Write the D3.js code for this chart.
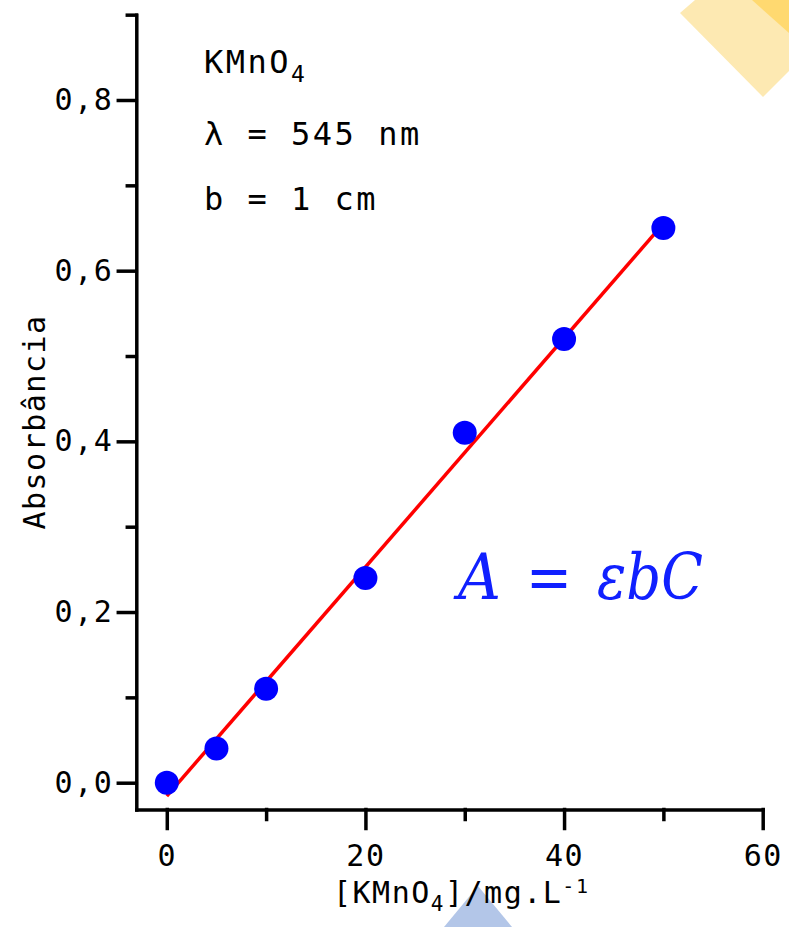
<!DOCTYPE html>
<html>
<head>
<meta charset="utf-8">
<script src="https://cdn.jsdelivr.net/npm/d3@7"></script>
<style>
  body { margin: 0; background: #fff; }
  svg text { font-family: "DejaVu Sans Mono", "Liberation Mono", monospace; }
</style>
</head>
<body>
<div id="chart"></div>
<script>
// data
const concentrations = [0, 5, 10, 20, 30, 40, 50];        // mg/L
const absorbances = [0, 0.04, 0.11, 0.24, 0.41, 0.52, 0.65];
const xMajorTicks = [0, 20, 40, 60];
const xMinorTicks = [10, 30, 50];
const yMajorTicks = [0, 0.2, 0.4, 0.6, 0.8];
const yMinorTicks = [0.1, 0.3, 0.5, 0.7, 0.9];

const width = 789, height = 927;
const monoFont = '"DejaVu Sans Mono", "Liberation Mono", monospace';

const svg = d3.select("#chart").append("svg")
    .attr("width", width)
    .attr("height", height);

// slide decorations behind the chart
const deco = svg.append("g");
deco.append("polygon")
    .attr("points", "680,13 695,0 789,0 789,71 763,97")
    .attr("fill", "#fde9b2");
deco.append("polygon")
    .attr("points", "752,0 789,0 789,33")
    .attr("fill", "#ffd970");
deco.append("polygon")
    .attr("points", "478,886 512,927 444,927")
    .attr("fill", "#b3c6e8");

let x = d3.scaleLinear()
    .domain([-3.07, 60])
    .range([136.3, 762.7]);

let y = d3.scaleLinear()
    .domain([0, 0.8])
    .range([782.7, 100]);

const yBottom = y.invert(809.5);

const fmtComma = d => d3.format(".1f")(d).replace(".", ",");

// X axis (minor then major)
svg.append("g")
    .attr("transform", `translate(0,${y(yBottom)})`)
    .call(d3.axisBottom(x).tickValues(xMinorTicks).tickSize(10).tickSizeOuter(0).tickFormat(""))
    .call(g => g.select(".domain").remove());

svg.append("g")
    .attr("transform", `translate(0,${y(yBottom)})`)
    .call(d3.axisBottom(x).tickValues(xMajorTicks).tickSize(19).tickSizeOuter(0).tickPadding(16));

// Y axis
const yAxisScale = y.copy().domain([yBottom, 0.9]).range([y(yBottom), y(0.9)]);
svg.append("g")
    .attr("transform", `translate(${x(-3.07)},0)`)
    .call(d3.axisLeft(yAxisScale).tickValues(yMinorTicks).tickSize(9).tickSizeOuter(0).tickFormat(""))
    .call(g => g.select(".domain").remove());

svg.append("g")
    .attr("transform", `translate(${x(-3.07)},0)`)
    .call(d3.axisLeft(yAxisScale).tickValues(yMajorTicks).tickSize(18).tickSizeOuter(0).tickPadding(5).tickFormat(fmtComma));

svg.selectAll(".domain, .tick line")
    .attr("stroke", "#000")
    .attr("stroke-width", 3.5)
    .attr("stroke-linecap", "square");

svg.selectAll(".tick text")
    .style("font-family", monoFont)
    .style("font-size", "30px")
    .style("letter-spacing", "1.5px")
    .attr("fill", "#000");

// least squares line through the points
const mx = d3.mean(concentrations), my = d3.mean(absorbances);
const sxy = d3.sum(concentrations, (c, i) => (c - mx) * (absorbances[i] - my));
const sxx = d3.sum(concentrations, c => (c - mx) * (c - mx));
const slope = sxy / sxx;
const intercept = my - slope * mx;
const xExtent = d3.extent(concentrations);

svg.append("line")
    .attr("x1", x(xExtent[0]))
    .attr("y1", y(intercept + slope * xExtent[0]))
    .attr("x2", x(xExtent[1]))
    .attr("y2", y(intercept + slope * xExtent[1]))
    .attr("stroke", "#ff0000")
    .attr("stroke-width", 3.5);

// data points
svg.append("g")
    .selectAll("circle")
    .data(concentrations)
    .join("circle")
    .attr("cx", d => x(d))
    .attr("cy", (d, i) => y(absorbances[i]))
    .attr("r", 12)
    .attr("fill", "#0000ff");

// annotation text
const note = svg.append("g").style("font-size", "32px").style("letter-spacing", "2.5px");
const t1 = note.append("text").attr("x", 204).attr("y", 73);
t1.append("tspan").text("KMnO");
t1.append("tspan").attr("dy", 9).style("font-size", "23px").text("4");
note.append("text").attr("x", 204).attr("y", 145).text("λ = 545 nm");
note.append("text").attr("x", 204).attr("y", 210).text("b = 1 cm");

// axis labels
svg.append("text")
    .attr("transform", "rotate(-90)")
    .attr("x", -422)
    .attr("y", 45)
    .style("text-anchor", "middle")
    .style("font-size", "30px")
    .style("letter-spacing", "1.5px")
    .text("Absorbância");

const xl = svg.append("text")
    .attr("x", 333)
    .attr("y", 903)
    .style("font-size", "30px")
    .style("letter-spacing", "1.5px");
xl.append("tspan").text("[KMnO");
xl.append("tspan").attr("dy", 8).style("font-size", "21px").text("4");
xl.append("tspan").attr("dy", -8).text("]/mg.L");
xl.append("tspan").attr("dy", -10).style("font-size", "20px").text("-1");

// Beer-Lambert equation
const eqColor = "#1020ff";
const eq = svg.append("g");
eq.append("text").attr("x", 458).attr("y", 599)
    .style("font-family", '"DejaVu Serif", serif').style("font-style", "italic")
    .style("font-size", "64px").style("fill", eqColor)
    .attr("textLength", 43).attr("lengthAdjust", "spacingAndGlyphs")
    .text("A");
eq.append("text").attr("x", 526).attr("y", 599)
    .style("font-family", '"DejaVu Serif", serif')
    .style("font-size", "64px").style("fill", eqColor)
    .attr("textLength", 46).attr("lengthAdjust", "spacingAndGlyphs")
    .text("=");
eq.append("text").attr("x", 597).attr("y", 599)
    .style("font-family", '"DejaVu Serif", serif').style("font-style", "italic")
    .style("font-size", "64px").style("fill", eqColor)
    .attr("textLength", 106).attr("lengthAdjust", "spacingAndGlyphs")
    .text("εbC");
</script>
</body>
</html>
